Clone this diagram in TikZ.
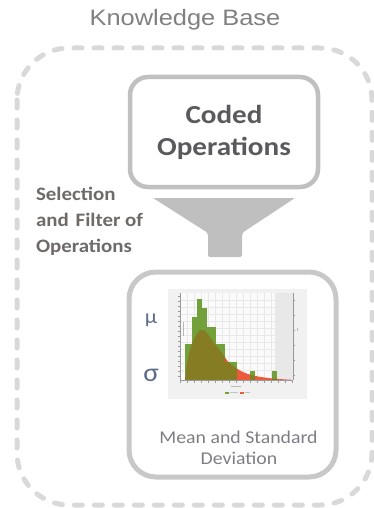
\documentclass[tikz,border=0pt]{standalone}
\usepackage{graphicx}
\usepackage{fontspec}
\setmainfont{Carlito}
\newfontfamily\lsans{Liberation Sans}
\newcommand{\stretchtxt}[1]{\scalebox{1.12}[1]{#1}}
\definecolor{dashgray}{HTML}{D9D9D9}
\definecolor{boxgray}{HTML}{C0C0C0}
\definecolor{boxgrayb}{HTML}{C8C8C8}
\definecolor{funnelgray}{HTML}{BFBFBF}
\definecolor{titlegray}{HTML}{808080}
\definecolor{darktxt}{HTML}{5A5A5E}
\definecolor{midtxt}{HTML}{6E6A68}
\definecolor{lighttxt}{HTML}{7C7E84}
\definecolor{greektxt}{HTML}{5E6C88}
\definecolor{histbg}{HTML}{F1F1F1}
\definecolor{plotbg}{HTML}{FAFAFA}
\definecolor{bandbg}{HTML}{E8E8E8}
\definecolor{gridc}{HTML}{E8E8E8}
\definecolor{axisc}{HTML}{9A9A9A}
\definecolor{bargreen}{HTML}{72A03A}
\definecolor{olive}{HTML}{857C24}
\definecolor{pdfred}{HTML}{EC5A3C}
\tikzset{
  txt/.style={inner sep=0pt, outer sep=0pt},
  roundbox/.style={draw, inner sep=0pt},
}
\newcommand{\pdfcurve}{plot[smooth] coordinates {(185,380) (187,363) (190,350) (194,339) (199,331) (204,330) (210,337) (216,345.5) (222,353) (228,361.5) (234,366.5) (240,370.5) (248,374) (258,376.5) (270,378.2) (283,379.3) (292,379.8)} -- (292,380) -- cycle}
\begin{document}
\begin{tikzpicture}[x=1pt,y=-1pt]
\useasboundingbox (0,0) rectangle (373,508);
% outer dashed knowledge base frame
\draw[dashgray, line width=5pt, dash pattern=on 8pt off 12pt, line cap=round, rounded corners=52pt]
  (17,48) rectangle (372,505);
\node[txt, anchor=base, text=titlegray, font=\lsans\fontsize{22.3}{26}\selectfont] (title) at (185,26) {\scalebox{1.14}[1]{Knowledge Base}};
% coded operations box
\node[roundbox, draw=boxgray, line width=4.5pt, rounded corners=18pt, minimum width=188pt, minimum height=110pt] (coded) at (224,132) {};
\node[txt, anchor=base, text=darktxt, font=\bfseries\fontsize{26}{32}\selectfont] (codedA) at (224,123) {\stretchtxt{Coded}};
\node[txt, anchor=base, text=darktxt, font=\bfseries\fontsize{26}{32}\selectfont] (codedB) at (224,155) {\stretchtxt{Operations}};
% selection text
\node[txt, anchor=base west, text=midtxt, font=\bfseries\fontsize{19}{26}\selectfont] (selA) at (36,200) {\scalebox{1.1}[1]{Selection}};
\node[txt, anchor=base west, text=midtxt, font=\bfseries\fontsize{19}{26}\selectfont] (selB) at (36,226) {\scalebox{1.1}[1]{and\hspace{2pt} Filter of}};
\node[txt, anchor=base west, text=midtxt, font=\bfseries\fontsize{19}{26}\selectfont] (selC) at (36,252) {\scalebox{1.1}[1]{Operations}};
% funnel
\fill[funnelgray, rounded corners=2pt] (153,198) -- (295,198) -- (242,233) -- (242,257) -- (208,257) -- (208,233) -- cycle;
\coordinate (funneltop) at (224,198);
% mean / std box
\node[roundbox, draw=boxgrayb, line width=5pt, rounded corners=27pt, minimum width=207pt, minimum height=205pt] (msd) at (232.5,374.5) {};
% histogram picture
\fill[histbg] (168,289) rectangle (307,399);
\fill[plotbg] (180,293) rectangle (293,380);
\fill[bandbg] (275,293) rectangle (293,380);
\foreach \gx in {187,194,201,208,215,222,229,236,243,250,257,264,271}
  \draw[gridc, line width=0.4pt] (\gx,293) -- (\gx,380);
\foreach \gy in {300,307,314,321,328,335,342,349,356,363,370}
  \draw[gridc, line width=0.4pt] (180,\gy) -- (275,\gy);
% red pdf area
\fill[pdfred] \pdfcurve;
% green bars
\fill[bargreen] (185,380) rectangle (192,344);
\fill[bargreen] (192,380) rectangle (197,317);
\fill[bargreen] (197,380) rectangle (202,299);
\fill[bargreen] (202,380) rectangle (207,308);
\fill[bargreen] (207,380) rectangle (216,327);
\fill[bargreen] (216,380) rectangle (225,344);
\fill[bargreen] (225,380) rectangle (237,362);
\fill[bargreen] (250,380) rectangle (255,371);
\fill[bargreen] (272,380) rectangle (277,371);
% overlap of bars and pdf area
\begin{scope}
  \clip (185,380) rectangle (192,344) (192,380) rectangle (197,317) (197,380) rectangle (202,299)
        (202,380) rectangle (207,308) (207,380) rectangle (216,327) (216,380) rectangle (225,344)
        (225,380) rectangle (237,362) (250,380) rectangle (255,371) (272,380) rectangle (277,371);
  \fill[olive] \pdfcurve;
\end{scope}
% axes
\draw[axisc, line width=0.5pt] (180,293) -- (180,380) -- (293,380);
\draw[axisc, line width=0.5pt] (293,293) -- (293,380);
\foreach \ty in {296,301,306,311,316,321,326,331,336,341,346,351,356,361,366,371,376}
  \draw[axisc, line width=0.4pt] (178,\ty) -- (180,\ty);
\foreach \tx in {180,187,194,201,208,215,222,229,236,243,250,257,264,271,278,285,292}
  \draw[axisc, line width=0.4pt] (\tx,380) -- (\tx,382.5);
\foreach \ty in {300,315,330,345,360,375}
  \draw[axisc, line width=0.4pt] (293,\ty) -- (295,\ty);
\draw[axisc!70, line width=0.8pt] (183.5,322) -- (183.5,336);
\draw[axisc!70, line width=0.8pt] (297,328) -- (297,331);
\draw[axisc!70, line width=0.8pt] (231,386) -- (241,386);
% legend
\fill[bargreen] (225,391.5) rectangle (229,394);
\draw[axisc!60, line width=0.8pt] (230,392.7) -- (238,392.7);
\fill[pdfred] (240,391.5) rectangle (244,394);
\draw[axisc!60, line width=0.8pt] (245,392.7) -- (250,392.7);
% greek symbols
\node[txt, text=greektxt, font=\fontsize{20}{24}\selectfont] (mu) at (151,320) {\stretchtxt{μ}};
\node[txt, text=greektxt, font=\fontsize{26}{30}\selectfont] (sigma) at (151,375) {\stretchtxt{σ}};
% caption
\node[txt, anchor=base, text=lighttxt, font=\fontsize{18}{21}\selectfont] (capA) at (238.5,443) {\scalebox{1.1}[1]{Mean and Standard}};
\node[txt, anchor=base, text=lighttxt, font=\fontsize{18}{21}\selectfont] (capB) at (239,464) {\scalebox{1.1}[1]{Deviation}};
\end{tikzpicture}
\end{document}
